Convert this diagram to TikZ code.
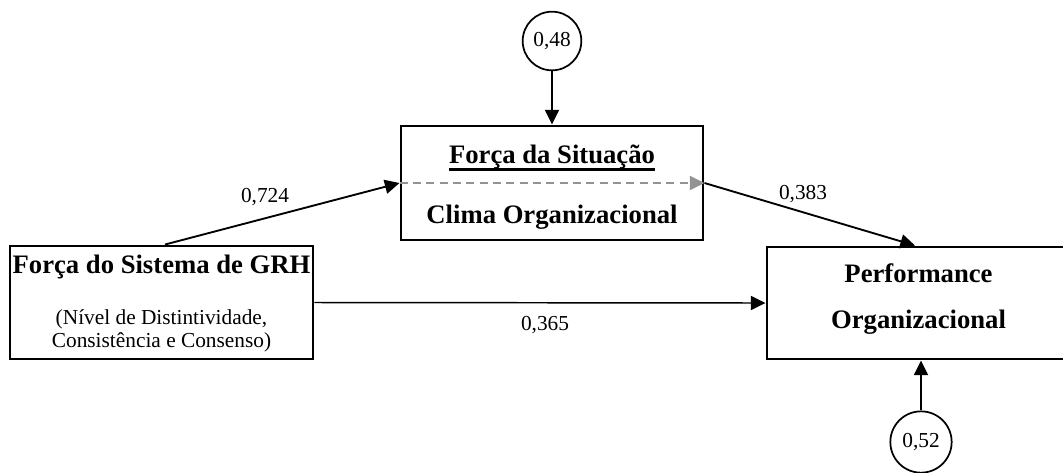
\documentclass[tikz,border=0pt]{standalone}
\usepackage{fontspec}
\setmainfont{Liberation Serif}
\usetikzlibrary{arrows.meta}
\begin{document}
\begin{tikzpicture}[x=0.75pt,y=-0.75pt,
  box/.style={draw,line width=2.2pt,inner sep=0pt},
  err/.style={draw,circle,line width=1.3pt,inner sep=0pt,minimum size=44pt,font=\fontsize{16}{18}\selectfont},
  title/.style={anchor=base,inner sep=0pt,font=\fontsize{20}{24}\selectfont\bfseries},
  plain/.style={anchor=base,inner sep=0pt,font=\fontsize{16}{18}\selectfont},
  conn/.style={line width=1.4pt,-{Triangle[length=11pt,width=10.5pt]}},
  mediated/.style={line width=1.6pt,gray!85,dash pattern=on 6pt off 4pt,
    -{Triangle[length=11pt,width=10.5pt,fill=gray!85]}}]
\clip (0,0) rectangle (1063,472);
\useasboundingbox (0,0) rectangle (1063,472);

% boxes
\node[box,minimum width=226.5pt,minimum height=85.5pt] (A) at (552,183) {};
\node[box,minimum width=227.25pt,minimum height=84.75pt] (B) at (161.5,302.5) {};
\node[box,minimum width=227.25pt,minimum height=84pt] (C) at (918.5,303) {};

% box texts
\node[title] (fs) at (552,163) {Força da Situação};
\draw[line width=1.8pt] ([yshift=-5pt]fs.base west) -- ([yshift=-5pt]fs.base east);
\node[title] (co) at (552,223) {Clima Organizacional};
\node[title] (fg) at (161.5,273) {Força do Sistema de GRH};
\node[plain] (nd) at (161.5,324) {(Nível de Distintividade,};
\node[plain] (cc) at (161.5,347) {Consistência e Consenso)};
\node[title] (pf) at (918.5,282) {Performance};
\node[title] (og) at (918.5,328) {Organizacional};

% error terms
\node[err] (e1) at (552,41) {0,48};
\node[err,minimum size=46pt] (e2) at (921,442) {0,52};

% paths
\draw[conn] (e1.south) -- (A.north);
\draw[conn] (e2.north) -- (e2 |- C.south);
\draw[conn] ([xshift=2.6pt]B.north) -- (A.west);
\draw[conn] (A.east) -- ([xshift=-2.6pt]C.north);
\draw[conn,line width=1.1pt] (B.east) -- (C.west);
\draw[mediated] (A.west) -- (A.east);

% coefficients
\node[plain] (l1) at (265,202) {0,724};
\node[plain] (l2) at (803,199) {0,383};
\node[plain] (l3) at (545,330) {0,365};
\end{tikzpicture}
\end{document}
